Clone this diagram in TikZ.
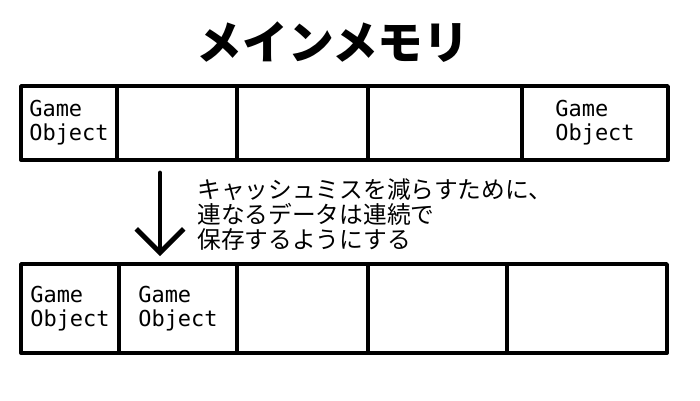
\documentclass[tikz,border=0pt]{standalone}
\usepackage{fontspec}
\newfontfamily\jpfont{Noto Sans CJK JP}
\newfontfamily\objfont{DejaVu Sans Mono}
\usetikzlibrary{arrows.meta,positioning}

\begin{document}
\begin{tikzpicture}[
  x=0.02cm,y=-0.02cm,
  cell/.style={draw,line width=2.2pt,line join=round,inner sep=0pt,
    minimum height=1.48cm,align=left,
    font=\objfont\fontsize{12.5}{13.6}\selectfont},
  lowcell/.style={cell,minimum height=1.78cm},
  note/.style={font=\jpfont\fontsize{13.5}{14.3}\selectfont,align=left,
    inner sep=0pt},
  arr/.style={-{Straight Barb[length=13.5pt,width=27pt]},
    line width=2.8pt,line cap=round}
]
\useasboundingbox (0,0) rectangle (700,400);
%% title
\node[font=\jpfont\bfseries\fontsize{26}{28}\selectfont] (title) at (333,42) {メインメモリ};
%% top row
\node[cell,minimum width=1.92cm] (t1) at (69,123) {Game\\Object};
\node[cell,minimum width=2.40cm] (t2) at (177,123) {};
\node[cell,minimum width=2.62cm] (t3) at (302.5,123) {};
\node[cell,minimum width=3.08cm] (t4) at (445,123) {};
\node[cell,minimum width=2.92cm] (t5) at (595,123) {Game\\Object};
%% arrow + note
\coordinate (arrtop) at (160,173);
\coordinate (arrbot) at (160,256);
\draw[arr] (arrtop) -- (arrbot);
\node[note,anchor=north west] (why) at (197,178)
  {キャッシュミスを減らすために、\\連なるデータは連続で\\保存するようにする};
%% bottom row
\node[lowcell,minimum width=1.96cm] (b1) at (70,308.5) {Game\\Object};
\node[lowcell,minimum width=2.36cm] (b2) at (178,308.5) {Game\\Object};
\node[lowcell,minimum width=2.62cm] (b3) at (302.5,308.5) {};
\node[lowcell,minimum width=2.78cm] (b4) at (437.5,308.5) {};
\node[lowcell,minimum width=3.20cm] (b5) at (587,308.5) {};
\end{tikzpicture}
\end{document}
